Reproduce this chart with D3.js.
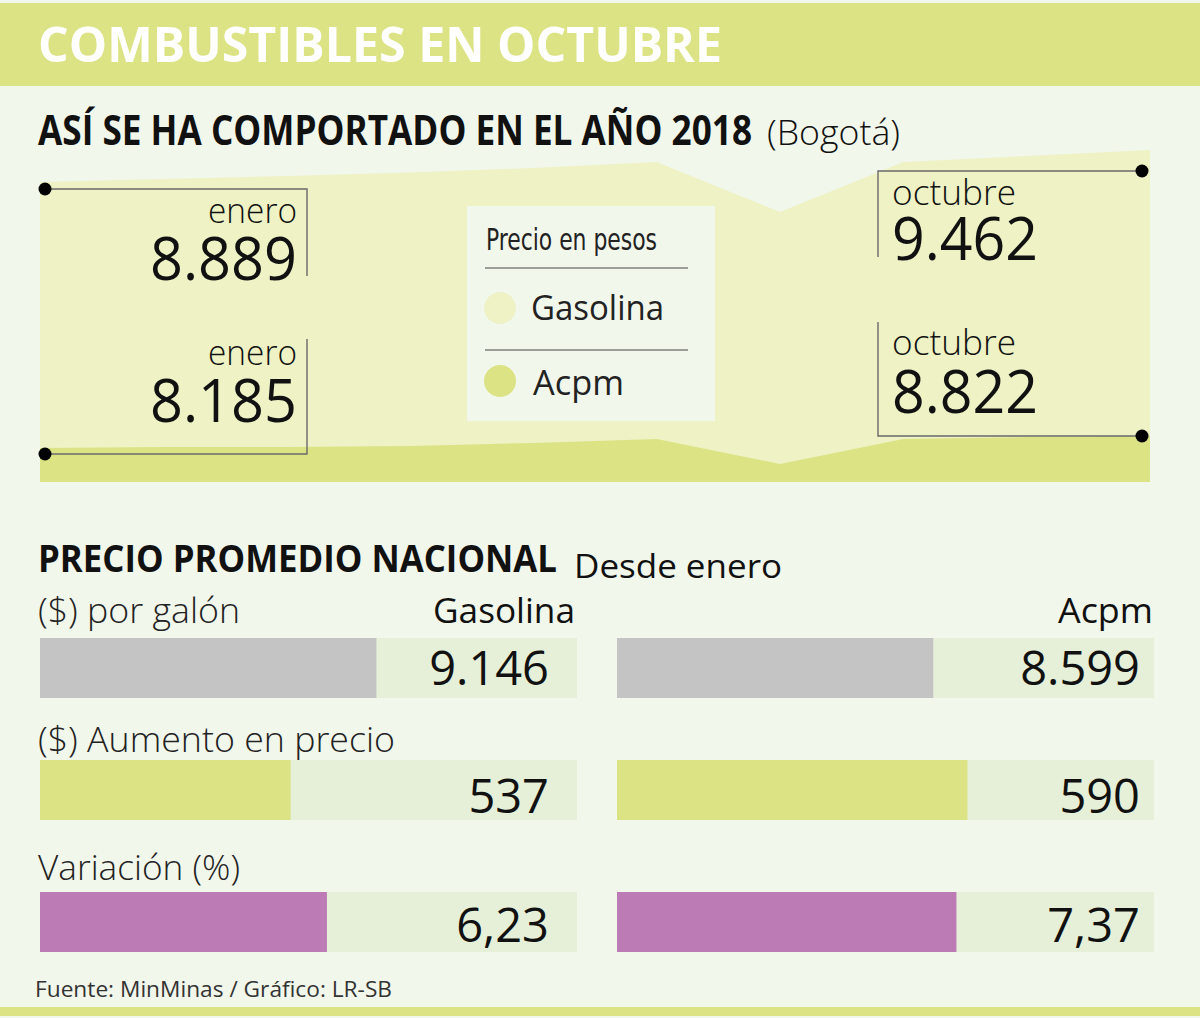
<!DOCTYPE html>
<html>
<head>
<meta charset="utf-8">
<script src="https://cdn.jsdelivr.net/npm/d3@7"></script>
<style>
  body { margin: 0; background: #f2f7ec; }
  svg { display: block; }
</style>
</head>
<body>
<div id="chart"></div>
<script>
/* monthly price in Bogotá, 2018 */
const months = ["ene", "feb", "mar", "abr", "may", "jun", "jul", "ago", "sep", "oct"];
const gasolina = [8889, 8943, 8996, 9059, 9140, 9247, 8352, 9247, 9355, 9462];
const acpm = [8185, 8238, 8238, 8291, 8450, 8663, 7336, 8663, 8769, 8822];

/* national average since January */
const rowLabels = ["($) por galón", "($) Aumento en precio", "Variación (%)"];
const gasolinaNacional = [9146, 537, 6.23];
const acpmNacional = [8599, 590, 7.37];
const rowDecimals = [0, 0, 2];
const rowColors = ["#c4c4c4", "#dce385", "#bc7bb5"];
const rowDomains = [[0, 14600], [404, 689], [0, 11.66]];

const W = 1200, H = 1018;
const es = d3.formatLocale({ decimal: ",", thousands: ".", grouping: [3], currency: ["$", ""] });
const headFont = "'Open Sans', 'Noto Sans', sans-serif";
const narrowFont = "'DejaVu Sans Condensed', 'Liberation Sans Narrow', sans-serif";

const svg = d3.select("#chart").append("svg")
    .attr("width", W)
    .attr("height", H);

svg.append("rect").attr("width", W).attr("height", H).attr("fill", "#f2f7ec");

/* helper for text, textLength keeps widths close to the original lettering */
function label(g, x, y, str, opts) {
    const t = g.append("text")
        .attr("x", x)
        .attr("y", y)
        .text(str)
        .attr("font-family", opts.family || "'Open Sans', 'Noto Sans', sans-serif")
        .attr("font-size", opts.size)
        .attr("font-weight", opts.weight || 400)
        .attr("fill", opts.fill || "#111")
        .attr("text-anchor", opts.anchor || "start");
    if (opts.len) t.attr("textLength", opts.len).attr("lengthAdjust", "spacingAndGlyphs");
    return t;
}

/* header band */
svg.append("rect").attr("x", 0).attr("y", 3).attr("width", W).attr("height", 83).attr("fill", "#dce385");
label(svg, 38, 62, "COMBUSTIBLES EN OCTUBRE",
    { size: 48, weight: 700, fill: "#fff", family: headFont, len: 684 });

label(svg, 38, 145, "ASÍ SE HA COMPORTADO EN EL AÑO 2018",
    { size: 41, weight: 700, family: headFont, len: 714 });
label(svg, 767, 145, "(Bogotá)", { size: 34, weight: 300, len: 133 });

/* area chart */
const x = d3.scalePoint().domain(months).range([40, 1150]);
const baseY = 482;
const yGas = d3.scaleLinear().domain([gasolina[0], gasolina[gasolina.length - 1]]).range([182, 150]);
const yAcpm = d3.scaleLinear().domain([acpm[0], acpm[acpm.length - 1]]).range([448, 436]);

const areaGas = d3.area()
    .x((d, i) => x(months[i]))
    .y0(baseY)
    .y1(d => yGas(d));
const areaAcpm = d3.area()
    .x((d, i) => x(months[i]))
    .y0(baseY)
    .y1(d => yAcpm(d));

const chart = svg.append("g");
chart.append("path").datum(gasolina).attr("d", areaGas).attr("fill", "#eef2c5");
chart.append("path").datum(acpm).attr("d", areaAcpm).attr("fill", "#dce385");

/* legend box */
const leg = svg.append("g");
leg.append("rect").attr("x", 467).attr("y", 206).attr("width", 248).attr("height", 215).attr("fill", "#f2f7ec");
label(leg, 486, 250, "Precio en pesos", { size: 31, family: narrowFont, len: 171, fill: "#222" });
leg.append("line").attr("x1", 485).attr("x2", 688).attr("y1", 268).attr("y2", 268).attr("stroke", "#444").attr("stroke-width", 1.2);
leg.append("circle").attr("cx", 500).attr("cy", 308).attr("r", 16).attr("fill", "#eef2c5");
label(leg, 531, 320, "Gasolina", { size: 34, len: 133, fill: "#222" });
leg.append("line").attr("x1", 485).attr("x2", 688).attr("y1", 350).attr("y2", 350).attr("stroke", "#444").attr("stroke-width", 1.2);
leg.append("circle").attr("cx", 500).attr("cy", 381).attr("r", 16).attr("fill", "#dce385");
label(leg, 533, 395, "Acpm", { size: 34, len: 91, fill: "#222" });

/* callouts for first and last month of each series */
const fmtInt = es.format(",d");
const callouts = [
    { side: "left", month: "ene", value: gasolina[0], scale: yGas, dy: 7, lineEnd: 276, wordY: 223, numY: 280, word: "enero" },
    { side: "left", month: "ene", value: acpm[0], scale: yAcpm, dy: 6, lineEnd: 339, wordY: 365, numY: 422, word: "enero" },
    { side: "right", month: "oct", value: gasolina[gasolina.length - 1], scale: yGas, dy: 21, lineEnd: 257, wordY: 205, numY: 260, word: "octubre" },
    { side: "right", month: "oct", value: acpm[acpm.length - 1], scale: yAcpm, dy: 0, lineEnd: 322, wordY: 355, numY: 413, word: "octubre" }
];
callouts.forEach(c => {
    const g = svg.append("g");
    const dotY = c.scale(c.value) + c.dy;
    const left = c.side === "left";
    const dotX = left ? x(c.month) + 5 : x(c.month) - 8;
    const edge = left ? 307 : 878;
    g.append("path")
        .attr("d", `M${dotX},${dotY}H${edge}V${c.lineEnd}`)
        .attr("fill", "none").attr("stroke", "#6a6a6a").attr("stroke-width", 1.4);
    g.append("circle").attr("cx", dotX).attr("cy", dotY).attr("r", 6.5).attr("fill", "#000");
    if (left) {
        label(g, 297, c.wordY, c.word, { size: 34, weight: 300, anchor: "end", len: 89 });
        label(g, 297, c.numY, fmtInt(c.value), { size: 60, anchor: "end", len: 147 });
    } else {
        label(g, 892, c.wordY, c.word, { size: 34, weight: 300, len: 124 });
        label(g, 892, c.numY, fmtInt(c.value), { size: 60, len: 146 });
    }
});

/* national average section */
label(svg, 38, 572, "PRECIO PROMEDIO NACIONAL",
    { size: 38, weight: 700, family: headFont, len: 519 });
label(svg, 574, 578, "Desde enero", { size: 33, len: 208 });

const columns = [
    { name: "Gasolina", values: gasolinaNacional, x0: 40, width: 537, valueRight: 549, headRight: 575, headLen: 142 },
    { name: "Acpm", values: acpmNacional, x0: 617, width: 537, valueRight: 1140, headRight: 1153, headLen: 95 }
];
const rowTop = [638, 760, 892];
const rowLabelY = [623, 752, 880];
const rowLabelLen = [202, 357, 202];
const rowValueDy = [47, 53, 50];
const barH = 60;

columns.forEach(col => {
    label(svg, col.headRight, 623, col.name, { size: 35, weight: 500, anchor: "end", len: col.headLen });
});

rowLabels.forEach((name, r) => {
    label(svg, 38, rowLabelY[r], name, { size: 34, weight: 300, len: rowLabelLen[r], fill: "#222" });
    const fmt = rowDecimals[r] ? es.format(",." + rowDecimals[r] + "f") : es.format(",d");
    columns.forEach(col => {
        const xs = d3.scaleLinear().domain(rowDomains[r]).range([0, col.width]);
        const g = svg.append("g").attr("transform", `translate(${col.x0},${rowTop[r]})`);
        g.append("rect").attr("width", col.width).attr("height", barH).attr("fill", "#e6f0d8");
        g.append("rect").attr("width", xs(col.values[r])).attr("height", barH).attr("fill", rowColors[r]);
        label(g, col.valueRight - col.x0, rowValueDy[r], fmt(col.values[r]),
            { size: 47, anchor: "end", fill: "#111" });
    });
});

label(svg, 35, 997, "Fuente: MinMinas  / Gráfico: LR-SB", { size: 22, fill: "#333", len: 357 });

/* bottom band */
svg.append("rect").attr("x", 0).attr("y", 1007).attr("width", W).attr("height", 9).attr("fill", "#dce385");
</script>
</body>
</html>
